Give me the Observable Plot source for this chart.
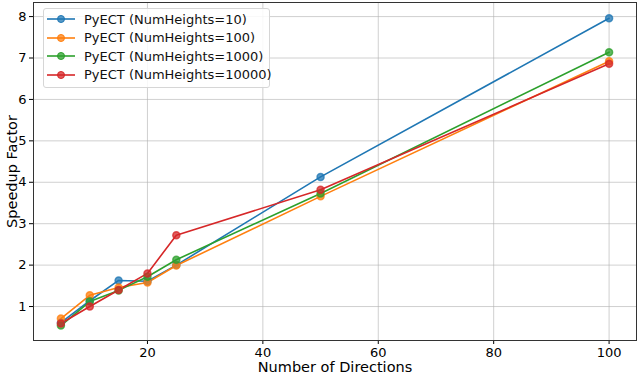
<!DOCTYPE html>
<html>
<head>
<meta charset="utf-8">
<script src="https://cdn.jsdelivr.net/npm/d3@7"></script>
<script src="https://cdn.jsdelivr.net/npm/@observablehq/plot@0.6"></script>
<style>
  html, body { margin: 0; padding: 0; background: #fff; }
  #wrap { position: relative; width: 640px; height: 374px; font-family: "DejaVu Sans", sans-serif; }
  #legend { position: absolute; left: 43px; top: 8px; width: 227px; height: 80px; border: 1px solid #d6d6d6; border-radius: 3px; background: rgba(255,255,255,0.85); box-sizing: border-box; }
  .item { position: absolute; left: 0; height: 18px; display: flex; align-items: center; font-size: 13px; color: #111; white-space: nowrap; }
  .item svg { margin-left: 3px; margin-right: 9px; }
</style>
</head>
<body>
<div id="wrap"></div>
<script>
const directions = [5, 10, 15, 20, 25, 50, 100];
const seriesNames = ["PyECT (NumHeights=10)", "PyECT (NumHeights=100)", "PyECT (NumHeights=1000)", "PyECT (NumHeights=10000)"];
const h10    = [0.61, 1.14, 1.63, 1.61, 2.00, 4.13, 7.96];
const h100   = [0.71, 1.27, 1.46, 1.58, 1.99, 3.66, 6.92];
const h1000  = [0.54, 1.12, 1.39, 1.72, 2.13, 3.73, 7.14];
const h10000 = [0.59, 1.00, 1.40, 1.80, 2.72, 3.82, 6.86];
const colors = ["#1f77b4", "#ff7f0e", "#2ca02c", "#d62728"];
const xTicks = [20, 40, 60, 80, 100];
const yTicks = [1, 2, 3, 4, 5, 6, 7, 8];
const xLabel = "Number of Directions";
const yLabel = "Speedup Factor";

const allSeries = [h10, h100, h1000, h10000];
const data = [];
allSeries.forEach((vals, si) => {
  vals.forEach((v, i) => data.push({series: seriesNames[si], x: directions[i], y: v}));
});

const chart = Plot.plot({
  width: 640,
  height: 374,
  marginLeft: 33,
  marginRight: 4,
  marginTop: 2,
  marginBottom: 34,
  style: {fontFamily: "DejaVu Sans, sans-serif", fontSize: "13px", color: "#000", background: "#fff"},
  x: {domain: [0.25, 104.75]},
  y: {domain: [0.18, 8.34]},
  color: {domain: seriesNames, range: colors},
  marks: [
    Plot.gridX(xTicks, {stroke: "#b0b0b0", strokeOpacity: 0.6, strokeWidth: 1}),
    Plot.gridY(yTicks, {stroke: "#b0b0b0", strokeOpacity: 0.6, strokeWidth: 1}),
    Plot.line(data, {x: "x", y: "y", z: "series", stroke: "series", strokeWidth: 1.6}),
    Plot.dot(data, {x: "x", y: "y", fill: "series", stroke: "series", r: 3.5, fillOpacity: 0.75, strokeOpacity: 0.75}),
    Plot.axisX(xTicks, {tickSize: 4, tickPadding: 3, fontSize: 13, label: null}),
    Plot.axisY(yTicks, {tickSize: 4, tickPadding: 3, fontSize: 13, label: null}),
    Plot.text([xLabel], {frameAnchor: "bottom", dy: 27, fontSize: 14.5, fill: "#000", lineAnchor: "middle"}),
    Plot.text([yLabel], {frameAnchor: "left", dx: -21, rotate: -90, fontSize: 14.5, fill: "#000", textAnchor: "middle", lineAnchor: "middle"}),
    Plot.frame({stroke: "#333", strokeWidth: 1})
  ]
});
const wrap = document.getElementById("wrap");
wrap.appendChild(chart);

const legend = document.createElement("div");
legend.id = "legend";
seriesNames.forEach((name, i) => {
  const it = document.createElement("div");
  it.className = "item";
  it.style.top = (1 + i * 18.6) + "px";
  it.innerHTML = `<svg width="28" height="10"><line x1="0" y1="5" x2="28" y2="5" stroke="${colors[i]}" stroke-width="1.6"/><circle cx="14" cy="5" r="3.5" fill="${colors[i]}" fill-opacity="0.75" stroke="${colors[i]}"/></svg><span>${name}</span>`;
  legend.appendChild(it);
});
wrap.appendChild(legend);
</script>
</body>
</html>
